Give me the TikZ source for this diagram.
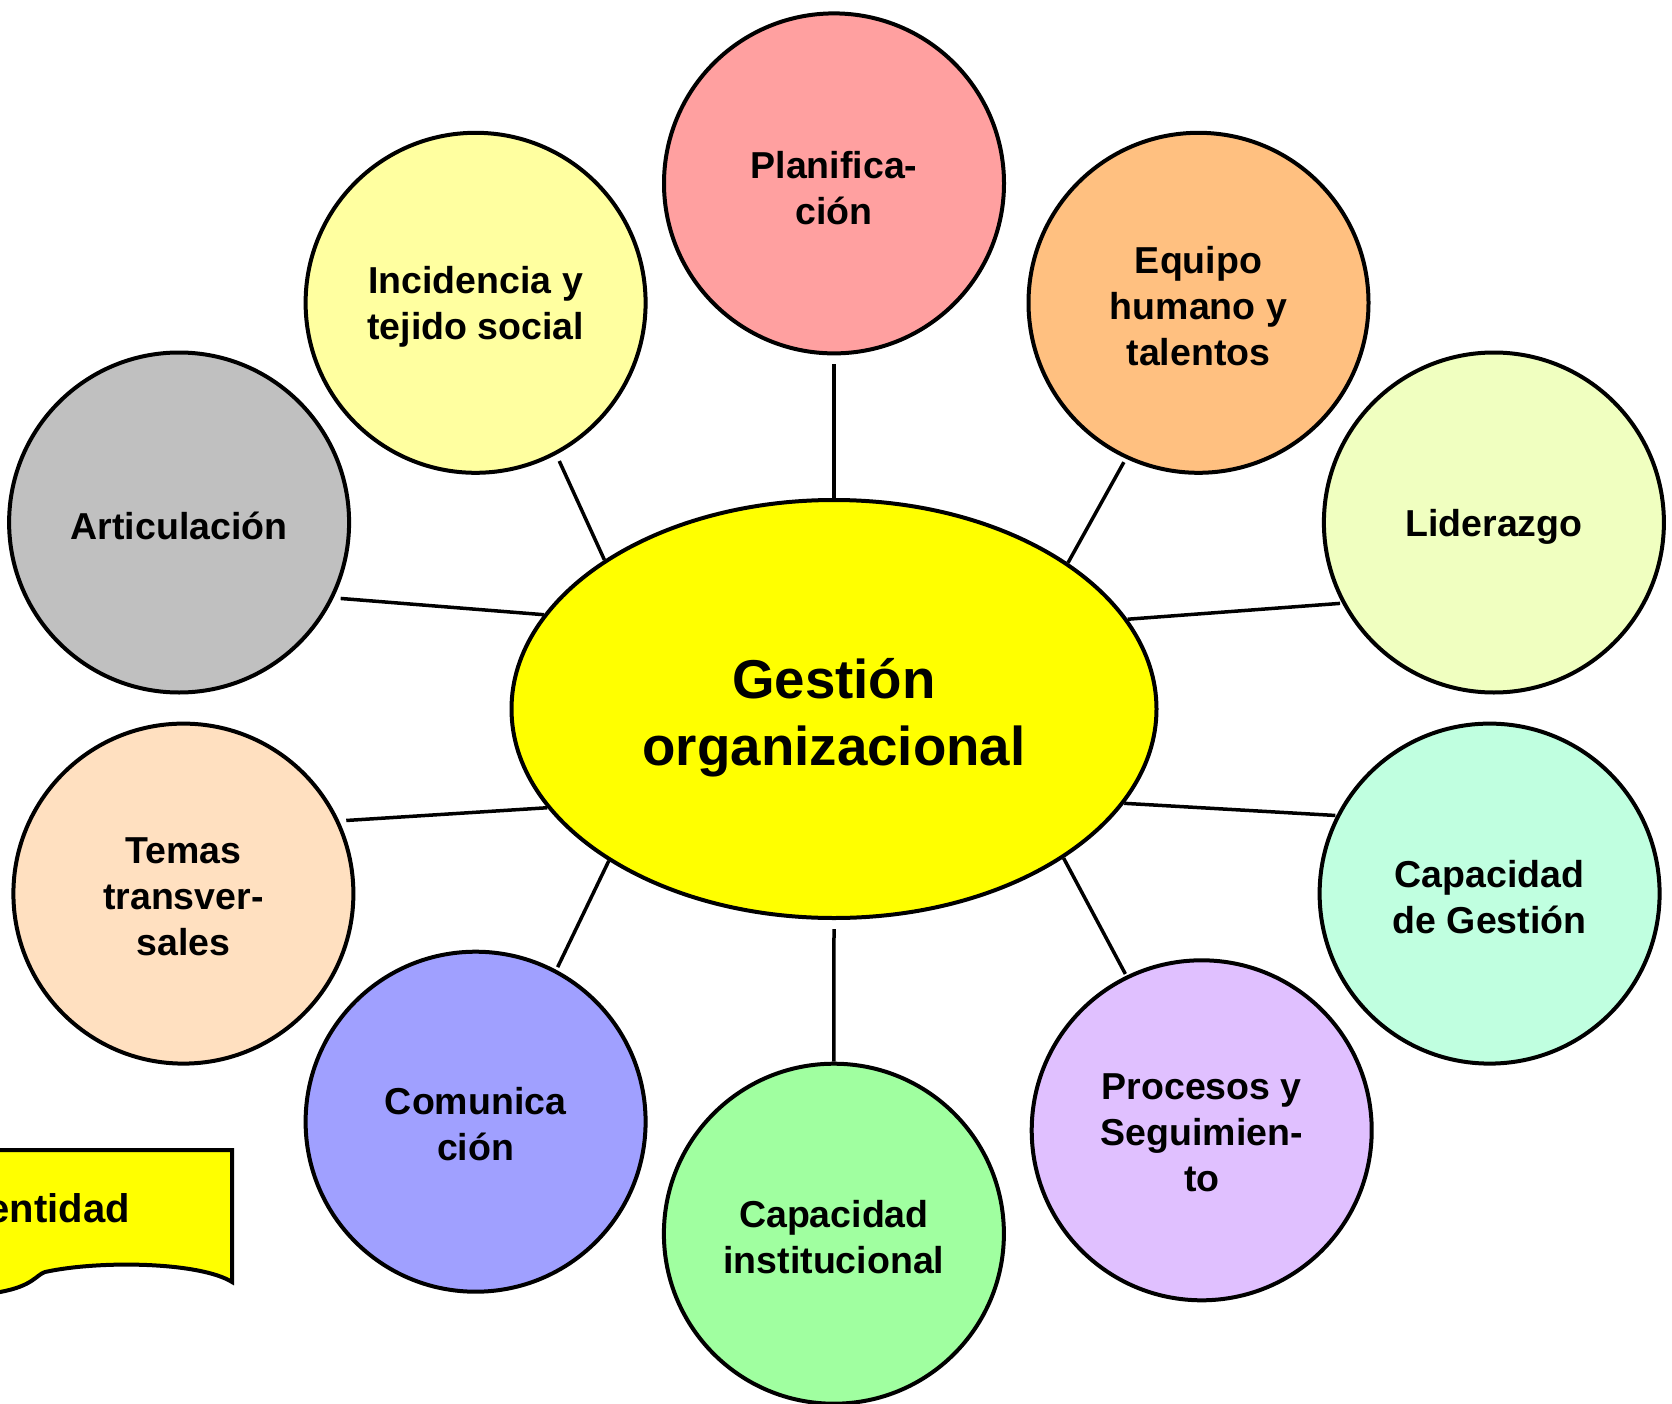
\documentclass[tikz,border=0pt]{standalone}
\usepackage{fontspec}
\setmainfont{Liberation Sans}
\usetikzlibrary{shapes.geometric}
\definecolor{cpl}{RGB}{255,160,160}
\definecolor{cinc}{RGB}{255,255,160}
\definecolor{ceq}{RGB}{255,192,128}
\definecolor{cart}{RGB}{192,192,192}
\definecolor{clid}{RGB}{240,255,192}
\definecolor{ctem}{RGB}{255,224,192}
\definecolor{ccg}{RGB}{192,255,224}
\definecolor{ccom}{RGB}{160,160,255}
\definecolor{cci}{RGB}{160,255,160}
\definecolor{cpro}{RGB}{224,192,255}
\definecolor{cyel}{RGB}{255,255,0}
\begin{document}
\begin{tikzpicture}[x=1pt,y=-1pt,
  bub/.style={circle,draw=black,line width=4pt,minimum size=340pt,inner sep=0pt},
  btxt/.style={inner sep=0pt,align=center,font=\bfseries\fontsize{37.5}{46}\selectfont},
  link/.style={draw=black,line width=3.5pt}]
\useasboundingbox (0,0) rectangle (1672,1404);
\fill[white] (0,0) rectangle (1672,1404);

% centre
\node[ellipse,draw=black,line width=4pt,fill=cyel,minimum width=645pt,minimum height=418pt,inner sep=0pt] (g) at (834,709) {};
\node[inner sep=0pt,align=center,font=\bfseries\fontsize{54.7}{66.7}\selectfont] (gt)
  at ([yshift=-9pt]g.center) {Gesti\'on\\organizacional};

% bubbles
\node[bub,fill=cpl]  (pl)  at (834,183.4)   {};
\node[bub,fill=cinc] (inc) at (475.6,302.8) {};
\node[bub,fill=ceq]  (eq)  at (1198.5,302.8){};
\node[bub,fill=cart] (art) at (179.1,522.5) {};
\node[bub,fill=clid] (lid) at (1493.9,522.5){};
\node[bub,fill=ctem] (tem) at (183.4,893.6) {};
\node[bub,fill=ccg]  (cg)  at (1489.6,893.6){};
\node[bub,fill=ccom] (com) at (475.6,1121.7){};
\node[bub,fill=cci]  (ci)  at (833.9,1233.7){};
\node[bub,fill=cpro] (pro) at (1201.7,1130.3){};

\node[btxt] (plt)  at ([yshift=-4.5pt]pl.center)  {Planifica-\\ci\'on};
\node[btxt] (inct) at ([yshift=-4.5pt]inc.center) {Incidencia y\\tejido social};
\node[btxt] (eqt)  at ([yshift=-3pt]eq.center)    {Equipo\\humano y\\talentos};
\node[btxt] (artt) at ([yshift=-3pt]art.center)   {Articulaci\'on};
\node[btxt] (lidt) at ([yshift=-4pt]lid.center)   {Liderazgo};
\node[btxt] (temt) at ([yshift=-3pt]tem.center)   {Temas\\transver-\\sales};
\node[btxt] (cgt)  at ([yshift=-3pt]cg.center)    {Capacidad\\de Gesti\'on};
\node[btxt] (comt) at ([yshift=-2pt]com.center)   {Comunica\\ci\'on};
\node[btxt] (cit)  at ([yshift=-3pt]ci.center)    {Capacidad\\institucional};
\node[btxt] (prot) at ([yshift=-2pt]pro.center)   {Procesos y\\Seguimien-\\to};

% connectors
\draw[link,shorten >=9pt] (g.90) -- (pl.-90);
\draw[link,shorten >=7pt] (g.147.2) -- (inc.-62.8);
\draw[link,shorten >=4pt] (g.32.4) -- (eq.-115.3);
\draw[link,shorten >=7pt] (g.162.4) -- (art.-26.9);
\draw[link,shorten >=2pt] (g.17.5) -- (lid.-152.3);
\draw[link,shorten >=7pt] (g.-161.3) -- (tem.25.3);
\draw[link,shorten >=1pt] (g.-18.6) -- (cg.153.7);
\draw[link,shorten >=3pt] (g.-146.1) -- (com.62.8);
\draw[link,shorten >=2pt] (g.-33.7) -- (pro.116.1);
\draw[link,shorten <=9pt] (g.-90) -- (ci.90);

% document shape (partly off page)
\begin{scope}
\clip (0,0) rectangle (1672,1404);
\draw[line width=4pt,fill=cyel,line join=miter]
  (-150,1150) -- (232,1150) -- (232,1282)
  .. controls (200,1262) and (100,1260) .. (45,1272)
  .. controls (36,1275) and (33,1286) .. (0,1292)
  -- (-150,1305) -- cycle;
\node[anchor=base east,inner sep=0pt,font=\bfseries\fontsize{40}{48}\selectfont] (idt) at (130,1222) {Identidad};
\end{scope}
\end{tikzpicture}
\end{document}
